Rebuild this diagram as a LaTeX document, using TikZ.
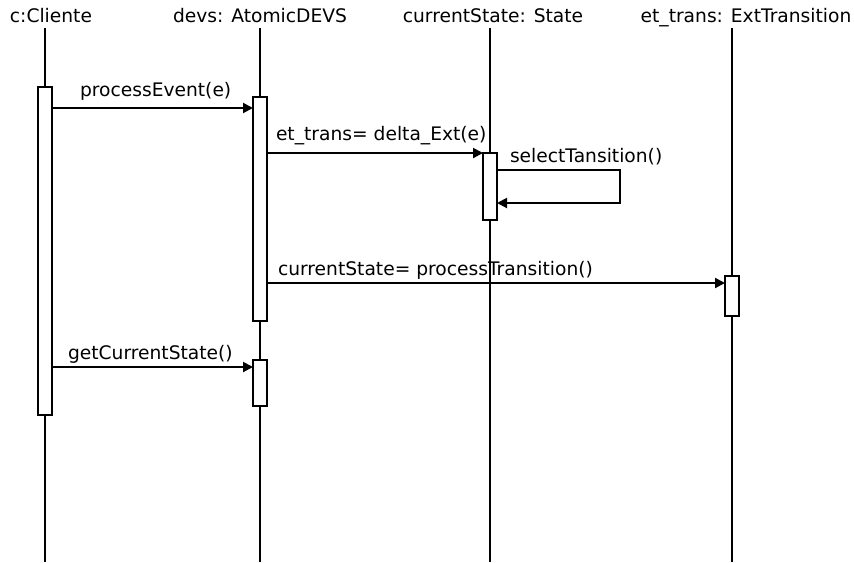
\documentclass[tikz,border=0pt]{standalone}
\usepackage{fontspec}
\setmainfont{DejaVu Sans}
\usetikzlibrary{arrows.meta}
\begin{document}
\begin{tikzpicture}[x=0.75pt,y=-0.75pt,
  every node/.style={font=\fontsize{14}{17}\selectfont, inner sep=0pt, outer sep=0pt},
  head/.style={anchor=base},
  lbl/.style={anchor=base west},
  life/.style={line width=1.5pt},
  act/.style={draw, line width=1.5pt, fill=white, rectangle, anchor=north,
              minimum width=10.5pt},
  msg/.style={line width=1.5pt, -{Triangle[length=7.5pt,width=7.5pt]}}
]
\useasboundingbox (0,0) rectangle (854,562);

% object heads
\node[head] (hc) at (51,22)  {c:Cliente};
\node[head] (hd) at (260,22) {devs: AtomicDEVS};
\node[head] (hs) at (493,22) {currentState: State};
\node[head] (he) at (746,22) {et\_trans: ExtTransition};

% lifelines
\coordinate (lct) at (45,28);  \coordinate (lcb) at (45,562);
\coordinate (ldt) at (260,28); \coordinate (ldb) at (260,562);
\coordinate (lst) at (490,28); \coordinate (lsb) at (490,562);
\coordinate (let) at (732,28); \coordinate (leb) at (732,562);
\draw[life] (lct) -- (lcb);
\draw[life] (ldt) -- (ldb);
\draw[life] (lst) -- (lsb);
\draw[life] (let) -- (leb);

% activation bars
\node[act, minimum height=246pt]  (c1) at (45,87)  {};
\node[act, minimum height=168pt]  (d1) at (260,97) {};
\node[act, minimum height=34.5pt] (d2) at (260,360) {};
\node[act, minimum height=50.25pt] (s1) at (490,153) {};
\node[act, minimum height=30pt]   (e1) at (732,276) {};

% messages
\draw[msg] (c1.east |- 0,108) -- (d1.west |- 0,108);
\node[lbl] (m1) at (80,96) {processEvent(e)};

\draw[msg] (d1.east |- 0,153) -- (s1.west |- 0,153);
\node[lbl] (m2) at (276,140) {et\_trans= delta\_Ext(e)};

\coordinate (loopa) at (620,170);
\coordinate (loopb) at (620,203);
\draw[msg] (s1.east |- loopa) -- (loopa) -- (loopb) -- (s1.east |- loopb);
\node[lbl] (m3) at (510,162) {selectTansition()};

\draw[msg] (d1.east |- 0,283) -- (e1.west |- 0,283);
\node[lbl] (m4) at (278,275) {currentState= processTransition()};

\draw[msg] (c1.east |- 0,367) -- (d2.west |- 0,367);
\node[lbl] (m5) at (68,359) {getCurrentState()};
\end{tikzpicture}
\end{document}
